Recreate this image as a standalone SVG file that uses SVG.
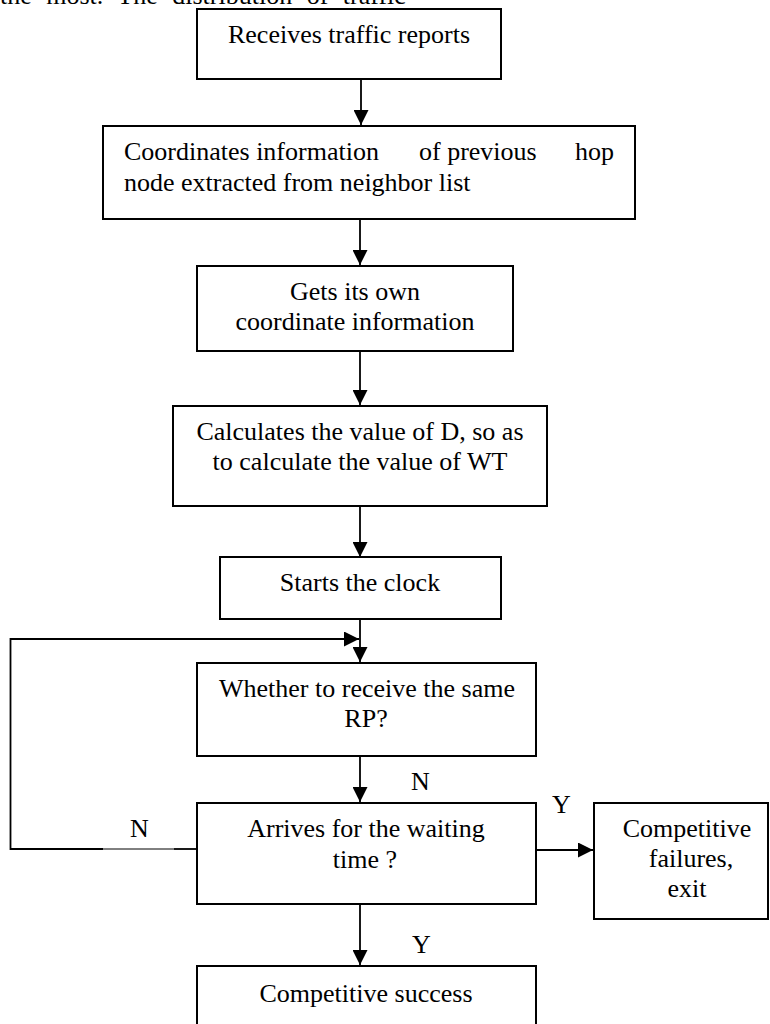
<svg xmlns="http://www.w3.org/2000/svg" width="770" height="1024" viewBox="0 0 770 1024">
<style>
  .box { fill: #ffffff; stroke: #000000; stroke-width: 2; }
  .t { font-family: "Liberation Serif", "Times New Roman", serif; font-size: 26px; fill: #000000; }
  .c { text-anchor: middle; }
  .edge { fill: none; stroke: #000000; stroke-width: 1.8; }
  .thin { fill: none; stroke: #000000; stroke-width: 1; }
</style>
<defs>
  <marker id="arr" markerUnits="userSpaceOnUse" markerWidth="16" markerHeight="15" refX="15" refY="7.5" orient="auto">
    <path d="M0,0 L15,7.5 L0,15 z" fill="#000000"/>
  </marker>
</defs>
<rect x="0" y="0" width="770" height="1024" fill="#ffffff"/>

<text class="t" x="0" y="4" word-spacing="8">the most. The distribution of traffic</text>

<g id="connectors">
  <line class="edge" x1="361" y1="79" x2="361" y2="125" marker-end="url(#arr)"/>
  <line class="edge" x1="360" y1="219" x2="360" y2="265" marker-end="url(#arr)"/>
  <line class="edge" x1="360" y1="351" x2="360" y2="405" marker-end="url(#arr)"/>
  <line class="edge" x1="360" y1="506" x2="360" y2="557" marker-end="url(#arr)"/>
  <line class="edge" x1="360" y1="617" x2="360" y2="662" marker-end="url(#arr)"/>
  <polyline class="edge" points="103,849 10.5,849 10.5,639 359,639" marker-end="url(#arr)"/>
  <line class="thin" x1="103" y1="849" x2="174" y2="849"/>
  <line class="edge" x1="174" y1="849" x2="197" y2="849"/>
  <line class="edge" x1="360" y1="756" x2="360" y2="802" marker-end="url(#arr)"/>
  <line class="edge" x1="523" y1="850" x2="593" y2="850" marker-end="url(#arr)"/>
  <line class="edge" x1="360" y1="896" x2="360" y2="965" marker-end="url(#arr)"/>
  <text class="t" x="411" y="790">N</text>
  <text class="t" x="130" y="837">N</text>
  <text class="t" x="552" y="813">Y</text>
  <text class="t" x="412" y="953">Y</text>
</g>

<g id="n1">
  <rect class="box" x="197" y="9" width="304" height="70"/>
  <text class="t c" x="349" y="43">Receives traffic reports</text>
</g>

<g id="n2">
  <rect class="box" x="103" y="126" width="532" height="93"/>
  <text class="t" y="160"><tspan x="124">Coordinates information</tspan><tspan x="419">of previous</tspan><tspan x="614" text-anchor="end">hop</tspan></text>
  <text class="t" x="124" y="191">node extracted from neighbor list</text>
</g>

<g id="n3">
  <rect class="box" x="197" y="266" width="316" height="85"/>
  <text class="t c" x="355" y="300">Gets its own</text>
  <text class="t c" x="355" y="330">coordinate information</text>
</g>

<g id="n4">
  <rect class="box" x="173" y="406" width="374" height="100"/>
  <text class="t c" x="360" y="440">Calculates the value of D, so as</text>
  <text class="t c" x="360" y="470">to calculate the value of WT</text>
</g>

<g id="n5">
  <rect class="box" x="220" y="557" width="281" height="62"/>
  <text class="t c" x="360" y="591">Starts the clock</text>
</g>

<g id="n6">
  <rect class="box" x="197" y="663" width="339" height="93"/>
  <text class="t c" x="367" y="697">Whether to receive the same</text>
  <text class="t c" x="366" y="727">RP?</text>
</g>

<g id="n7">
  <rect class="box" x="197" y="803" width="339" height="101"/>
  <text class="t c" x="366" y="837">Arrives for the waiting</text>
  <text class="t c" x="365" y="868">time ?</text>
</g>

<g id="n8">
  <rect class="box" x="594" y="803" width="174" height="116"/>
  <text class="t c" x="687" y="837">Competitive</text>
  <text class="t c" x="691" y="867">failures,</text>
  <text class="t c" x="687" y="897">exit</text>
</g>

<g id="n9">
  <rect class="box" x="197" y="966" width="339" height="80"/>
  <text class="t c" x="366" y="1002">Competitive success</text>
</g>
</svg>
